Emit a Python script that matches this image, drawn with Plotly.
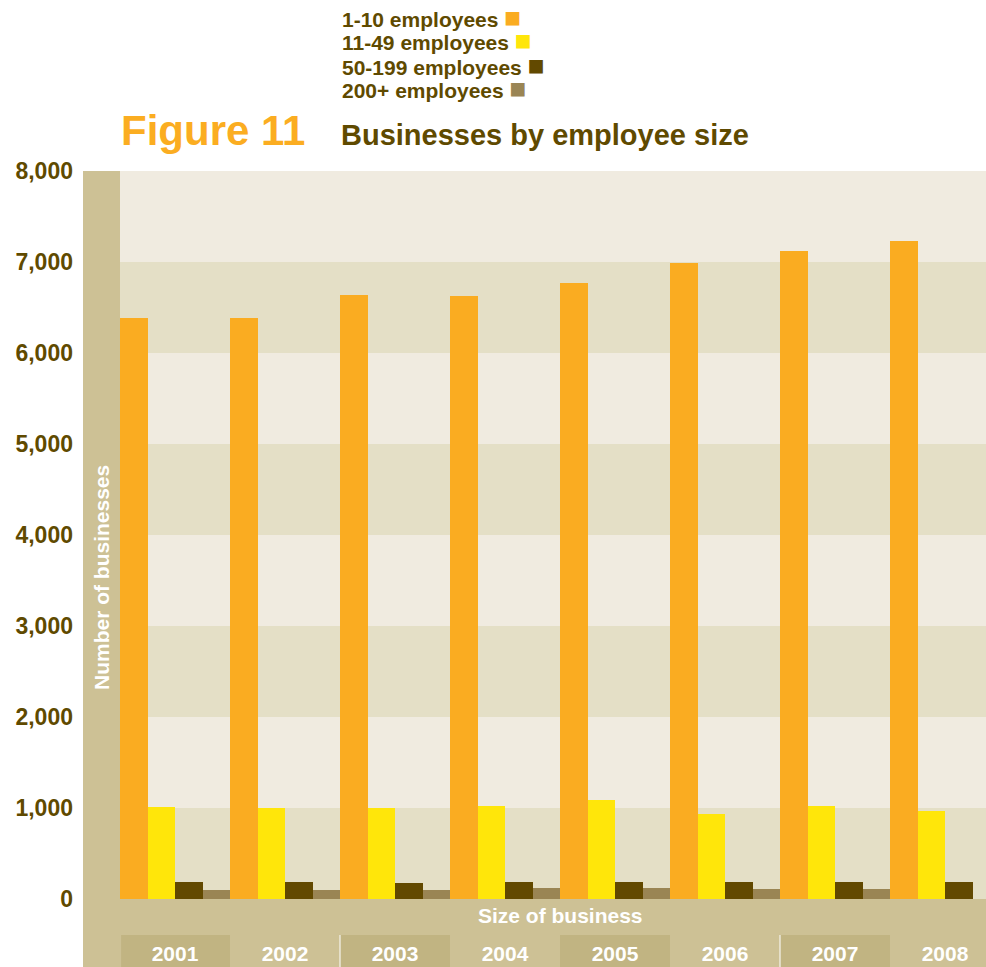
import plotly.graph_objects as go

years = ["2001", "2002", "2003", "2004", "2005", "2006", "2007", "2008"]
emp_1_10 = [6385, 6385, 6637, 6626, 6769, 6989, 7121, 7231]
emp_11_49 = [1011, 1000, 1000, 1022, 1088, 934, 1022, 967]
emp_50_199 = [187, 187, 176, 187, 187, 187, 187, 187]
emp_200_plus = [99, 99, 99, 121, 121, 110, 110, None]
series_names = ["1-10 employees", "11-49 employees", "50-199 employees", "200+ employees"]
y_ticks = [0, 1000, 2000, 3000, 4000, 5000, 6000, 7000, 8000]

colors = ["#FAAC21", "#FFE60A", "#624900", "#9A8554"]
BROWN = "#5F4A00"
LIGHT = "#F0EBE0"
DARK_BAND = "#E4DFC6"
STRIP = "#CDC195"
BOX = "#C1B482"
FONT = "Liberation Sans"

W, H = 986, 967
L, R, T, B = 120, 0, 171, 68
PW, PH = W - L - R, H - T - B


def px_x(px):
    return (px - L) / PW


def px_y(py):
    return (H - B - py) / PH


fig = go.Figure()
for name, vals, col in zip(series_names, [emp_1_10, emp_11_49, emp_50_199, emp_200_plus], colors):
    fig.add_trace(go.Bar(x=years, y=vals, name=name, marker=dict(color=col, line=dict(width=0)),
                         showlegend=False))

shapes = []
# horizontal bands
for k in range(8):
    shapes.append(dict(type="rect", xref="paper", yref="y", x0=0, x1=1,
                       y0=y_ticks[k], y1=y_ticks[k + 1], fillcolor=DARK_BAND if k % 2 == 0 else LIGHT,
                       line=dict(width=0), layer="below"))
# left strip and bottom strip
shapes.append(dict(type="rect", xref="paper", yref="paper", x0=px_x(83), x1=0, y0=px_y(H), y1=1,
                   fillcolor=STRIP, line=dict(width=0), layer="below"))
shapes.append(dict(type="rect", xref="paper", yref="paper", x0=0, x1=1.02, y0=px_y(H), y1=0,
                   fillcolor=STRIP, line=dict(width=0), layer="below"))
# year boxes
for i in range(0, 8, 2):
    shapes.append(dict(type="rect", xref="x", yref="paper", x0=i - 0.5 + (0.01 if i == 0 else 0), x1=i + 0.5,
                       y0=px_y(H), y1=px_y(935), fillcolor=BOX, line=dict(width=0), layer="below"))
for i in (2, 6):
    shapes.append(dict(type="line", xref="x", yref="paper", x0=i - 0.5, x1=i - 0.5,
                       y0=px_y(H), y1=px_y(935), line=dict(color="white", width=1), layer="below"))

annotations = []
legend_y = [17, 41, 65, 89]
for name, col, py in zip(series_names, colors, legend_y):
    annotations.append(dict(
        xref="paper", yref="paper", x=px_x(340), y=px_y(py), xanchor="left", yanchor="middle",
        text=f"{name} <span style='color:{col};font-size:28px'>■</span>", showarrow=False,
        font=dict(family=FONT, size=21, color=BROWN, weight="bold")))
annotations.append(dict(xref="paper", yref="paper", x=px_x(119), y=px_y(131), xanchor="left",
                        yanchor="middle", text="Figure 11", showarrow=False,
                        font=dict(family=FONT, size=42, color="#FBAD21", weight="bold")))
annotations.append(dict(xref="paper", yref="paper", x=px_x(339), y=px_y(135), xanchor="left",
                        yanchor="middle", text="Businesses by employee size", showarrow=False,
                        font=dict(family=FONT, size=29, color=BROWN, weight="bold")))
annotations.append(dict(xref="x", yref="paper", x=3.5, y=px_y(916), xanchor="center", yanchor="middle",
                        text="Size of business", showarrow=False,
                        font=dict(family=FONT, size=21, color="white", weight="bold")))
annotations.append(dict(xref="paper", yref="paper", x=px_x(101), y=px_y(578), xanchor="center",
                        yanchor="middle", text="Number of businesses", textangle=-90, showarrow=False,
                        font=dict(family=FONT, size=21, color="white", weight="bold")))

fig.update_layout(
    width=W, height=H,
    margin=dict(l=L, r=R, t=T, b=B, pad=0),
    paper_bgcolor="white", plot_bgcolor="rgba(0,0,0,0)",
    barmode="group", bargap=0, bargroupgap=0,
    shapes=shapes, annotations=annotations,
    xaxis=dict(range=[-0.5, -0.5 + PW / 110], showgrid=False, zeroline=False, showline=False,
               ticks="", ticklabelstandoff=40,
               tickfont=dict(family=FONT, size=21, color="white", weight="bold")),
    yaxis=dict(range=[0, 8000], tickvals=y_ticks, tickformat=",", showgrid=False, zeroline=False,
               showline=False, ticks="", ticklabelstandoff=46,
               tickfont=dict(family=FONT, size=23, color=BROWN, weight="bold")),
    showlegend=False,
)

fig.write_html("out.html", config={"displayModeBar": False},
               post_script="document.body.style.margin='0';document.body.style.overflow='hidden';")
